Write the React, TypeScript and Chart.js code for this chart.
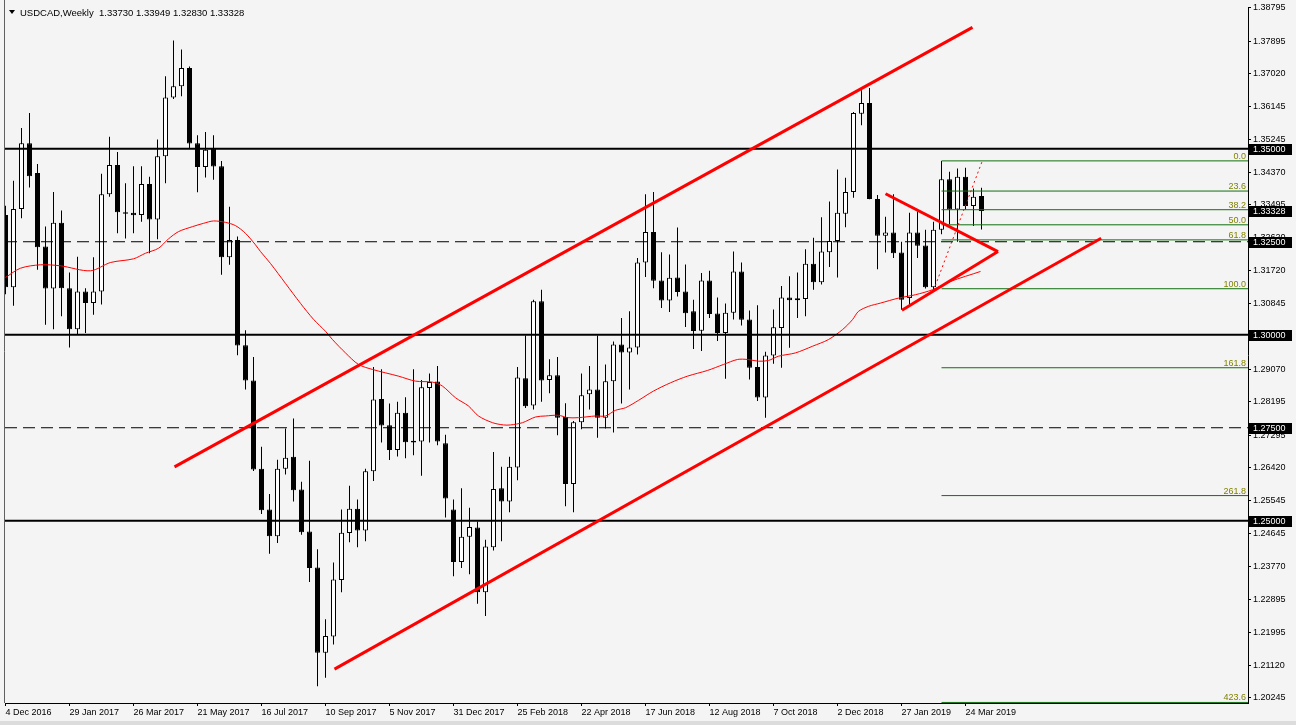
import React, { useEffect, useRef } from "react";
import { Chart, registerables } from "chart.js";

Chart.register(...registerables);

const symbolTitle = "USDCAD,Weekly";
const headerValues = ["1.33730", "1.33949", "1.32830", "1.33328"];

const dateLabels = [
  "4 Dec 2016", "29 Jan 2017", "26 Mar 2017", "21 May 2017", "16 Jul 2017", "10 Sep 2017",
  "5 Nov 2017", "31 Dec 2017", "25 Feb 2018", "22 Apr 2018", "17 Jun 2018", "12 Aug 2018",
  "7 Oct 2018", "2 Dec 2018", "27 Jan 2019", "24 Mar 2019",
];

const opens = [
  1.3322, 1.3128, 1.3338, 1.3515, 1.3435, 1.3237, 1.3124, 1.3301, 1.3125, 1.3015,
  1.3116, 1.3085, 1.3116, 1.3378, 1.3456, 1.3329, 1.3328, 1.3322, 1.3405, 1.3310,
  1.3480, 1.3638, 1.3668, 1.3717, 1.3515, 1.3451, 1.3500, 1.3453, 1.3208, 1.3255,
  1.2972, 1.2877, 1.2640, 1.2530, 1.2458, 1.2640, 1.2672, 1.2584, 1.2471, 1.2374,
  1.2145, 1.2189, 1.2341, 1.2467, 1.2532, 1.2474, 1.2633, 1.2827, 1.2757, 1.2690,
  1.2790, 1.2715, 1.2713, 1.2857, 1.2874, 1.2708, 1.2530, 1.2389, 1.2457, 1.2482,
  1.2308, 1.2429, 1.2587, 1.2552, 1.2643, 1.2883, 1.2810, 1.3090, 1.2878, 1.2891,
  1.2779, 1.2599, 1.2765, 1.2840, 1.2853, 1.2777, 1.2875, 1.2974, 1.2952, 1.2966,
  1.3194, 1.3276, 1.3146, 1.3092, 1.3154, 1.3116, 1.3063, 1.3011, 1.3146, 1.3057,
  1.3005, 1.3059, 1.3170, 1.3041, 1.2913, 1.2831, 1.2944, 1.3018, 1.3100, 1.3098,
  1.3096, 1.3191, 1.3141, 1.3222, 1.3252, 1.3325, 1.3384, 1.3594, 1.3623, 1.3365,
  1.3266, 1.3275, 1.3221, 1.3099, 1.3275, 1.3240, 1.3128, 1.3282, 1.3418, 1.3337,
  1.3425, 1.3346, 1.3373,
];
const highs = [
  1.3347, 1.3414, 1.3556, 1.3596, 1.3459, 1.3291, 1.3384, 1.3334, 1.3167, 1.3210,
  1.3125, 1.3208, 1.3433, 1.3532, 1.3491, 1.3407, 1.3453, 1.3453, 1.3425, 1.3525,
  1.3695, 1.3791, 1.3767, 1.3721, 1.3536, 1.3545, 1.3536, 1.3467, 1.3344, 1.3264,
  1.3012, 1.2940, 1.2699, 1.2572, 1.2664, 1.2748, 1.2775, 1.2605, 1.2661, 1.2423,
  1.2235, 1.2388, 1.2530, 1.2594, 1.2557, 1.2640, 1.2913, 1.2907, 1.2815, 1.2820,
  1.2832, 1.2907, 1.2878, 1.2896, 1.2916, 1.2731, 1.2557, 1.2587, 1.2535, 1.2498,
  1.2449, 1.2685, 1.2645, 1.2672, 1.2913, 1.2998, 1.3094, 1.3121, 1.2934, 1.2940,
  1.2816, 1.2768, 1.2896, 1.2916, 1.2998, 1.2920, 1.2982, 1.3045, 1.3063, 1.3206,
  1.3378, 1.3384, 1.3222, 1.3216, 1.3288, 1.3189, 1.3094, 1.3166, 1.3172, 1.3100,
  1.3084, 1.3224, 1.3194, 1.3065, 1.3079, 1.2954, 1.3068, 1.3131, 1.3157, 1.3167,
  1.3230, 1.3261, 1.3316, 1.3358, 1.3444, 1.3422, 1.3599, 1.3657, 1.3663, 1.3376,
  1.3317, 1.3378, 1.3250, 1.3328, 1.3331, 1.3282, 1.3304, 1.3467, 1.3438, 1.3447,
  1.3449, 1.3393, 1.33949,
];
const lows = [
  1.3109, 1.3078, 1.3313, 1.3396, 1.3175, 1.3027, 1.3015, 1.3050, 1.2966, 1.3002,
  1.3005, 1.3054, 1.3081, 1.3371, 1.3273, 1.3259, 1.3273, 1.3304, 1.3219, 1.3257,
  1.3407, 1.3634, 1.3641, 1.3502, 1.3383, 1.3423, 1.3417, 1.3161, 1.3188, 1.2945,
  1.2853, 1.2634, 1.2518, 1.2411, 1.2440, 1.2624, 1.2552, 1.2462, 1.2335, 1.2055,
  1.2078, 1.2167, 1.2308, 1.2442, 1.2429, 1.2445, 1.2607, 1.2710, 1.2663, 1.2673,
  1.2668, 1.2676, 1.2621, 1.2710, 1.2703, 1.2509, 1.2351, 1.2373, 1.2356, 1.2277,
  1.2244, 1.2420, 1.2445, 1.2523, 1.2609, 1.2803, 1.2799, 1.2820, 1.2843, 1.2730,
  1.2539, 1.2523, 1.2746, 1.2799, 1.2723, 1.2748, 1.2737, 1.2815, 1.2853, 1.2947,
  1.3155, 1.3125, 1.3072, 1.3061, 1.3103, 1.3021, 1.2962, 1.2956, 1.3045, 1.2983,
  1.2882, 1.3041, 1.3025, 1.2880, 1.2822, 1.2777, 1.2922, 1.2911, 1.2965, 1.3045,
  1.3050, 1.3121, 1.3135, 1.3182, 1.3154, 1.3289, 1.3368, 1.3563, 1.3364, 1.3176,
  1.3221, 1.3206, 1.3067, 1.3081, 1.3206, 1.3124, 1.3119, 1.3270, 1.3297, 1.3250,
  1.3337, 1.3292, 1.3283,
];
const closes = [
  1.3128, 1.3338, 1.3515, 1.3426, 1.3235, 1.3124, 1.3301, 1.3125, 1.3015, 1.3116,
  1.3085, 1.3116, 1.3378, 1.3456, 1.3329, 1.3325, 1.3321, 1.3405, 1.3310, 1.3480,
  1.3638, 1.3668, 1.3717, 1.3514, 1.3451, 1.3497, 1.3452, 1.3208, 1.3255, 1.2971,
  1.2877, 1.2638, 1.2528, 1.2458, 1.2640, 1.2669, 1.2582, 1.2469, 1.2373, 1.2145,
  1.2190, 1.2342, 1.2468, 1.2532, 1.2474, 1.2633, 1.2826, 1.2756, 1.2690, 1.2790,
  1.2711, 1.2710, 1.2859, 1.2873, 1.2713, 1.2560, 1.2389, 1.2457, 1.2483, 1.2308,
  1.2431, 1.2585, 1.2552, 1.2645, 1.2885, 1.2808, 1.3090, 1.2877, 1.2891, 1.2777,
  1.2599, 1.2765, 1.2837, 1.2853, 1.2777, 1.2875, 1.2974, 1.2952, 1.2966, 1.3194,
  1.3276, 1.3145, 1.3092, 1.3153, 1.3115, 1.3058, 1.3010, 1.3146, 1.3056, 1.3005,
  1.3059, 1.3170, 1.3040, 1.2911, 1.2831, 1.2944, 1.3020, 1.3100, 1.3093, 1.3093,
  1.3191, 1.3141, 1.3224, 1.3252, 1.3328, 1.3384, 1.3596, 1.3623, 1.3365, 1.3266,
  1.3275, 1.3219, 1.3094, 1.3275, 1.3239, 1.3128, 1.3282, 1.3418, 1.3337, 1.3425,
  1.3346, 1.3371, 1.33328,
];

const priceTicks = [
  1.38795, 1.37895, 1.3702, 1.36145, 1.35245, 1.3437, 1.33495, 1.3262, 1.3172, 1.30845,
  1.2997, 1.2907, 1.28195, 1.27295, 1.2642, 1.25545, 1.24645, 1.2377, 1.22895, 1.21995,
  1.2112, 1.20245,
];

const solidLevels = [1.35, 1.3, 1.25];
const dashedLevels = [1.325, 1.275];
const markedPrices = [1.35, 1.33328, 1.325, 1.3, 1.275, 1.25];

const fibHigh = 1.34674;
const fibLow = 1.31237;
const fibRatios = [0, 23.6, 38.2, 50, 61.8, 100, 161.8, 261.8, 423.6];
const fibStartIndex = 117;

const maIndex = [
  0, 1.875, 4.375, 6.875, 10.625, 13.125, 16, 17.5, 19.125, 20.375, 21.625, 23.375, 24.75, 26,
  27.5, 28.75, 30, 31.25, 31.875, 33.125, 35, 36.875, 38.5, 40, 40.875, 42.5, 44.125, 45.875,
  49.125, 51.25, 53.375, 54.625, 56.25, 57.875, 59.125, 60.875, 62.25, 63.125, 64.625, 66.25,
  67.5, 69.125, 70.25, 71.625, 73.75, 75, 76.25, 77.5, 79.125, 81, 83.125, 85.25, 87.75, 89.75,
  91.5, 92.75, 94.125, 95.375, 96.625, 98.75, 100.875, 102.875, 104.625, 105.875, 106.625,
  107.875, 109.375, 111.625, 113.75, 115.875, 118.125, 121.875,
];
const maValues = [
  1.3154, 1.31789, 1.3188, 1.31853, 1.31719, 1.31942, 1.32041, 1.32191, 1.32325, 1.32577,
  1.32772, 1.32906, 1.32995, 1.33059, 1.33021, 1.32933, 1.32726, 1.32416, 1.32236, 1.31915,
  1.31379, 1.30843, 1.30415, 1.30093, 1.2987, 1.29511, 1.29201, 1.29067, 1.28887, 1.28753,
  1.28726, 1.28619, 1.28306, 1.28084, 1.27816, 1.27636, 1.27575, 1.27575, 1.27636, 1.27789,
  1.27816, 1.27835, 1.27771, 1.27771, 1.27816, 1.27816, 1.27968, 1.28038, 1.28236, 1.28486,
  1.28708, 1.28887, 1.2904, 1.29201, 1.29335, 1.29335, 1.29289, 1.29308, 1.29423, 1.29512,
  1.29691, 1.29871, 1.30138, 1.30406, 1.30629, 1.30763, 1.30851, 1.30985, 1.31076, 1.3121,
  1.31433, 1.31701,
];

const upperChannel = [{ x: 21.125, y: 1.26449 }, { x: 120.875, y: 1.38264 }];
const lowerChannel = [{ x: 41.125, y: 1.21011 }, { x: 136.96, y: 1.32593 }];
const triangleLines = [
  [{ x: 110, y: 1.3379 }, { x: 124.06, y: 1.32236 }],
  [{ x: 112.06, y: 1.30656 }, { x: 124.06, y: 1.32236 }],
];
const fibDiagonal = [{ x: 116, y: 1.31191 }, { x: 122.1, y: 1.34674 }];

const X_MIN = -0.0625;
const X_MAX = 155.3125;
const Y_MIN = 1.201;
const Y_MAX = 1.388;

const FONT = "'Liberation Sans', Arial, sans-serif";

const decorPlugin = {
  id: "decor",
  beforeDraw(chart: any) {
    const { ctx, width, height } = chart;
    ctx.save();
    ctx.fillStyle = "#f4f4f4";
    ctx.fillRect(0, 0, width, height);
    ctx.fillStyle = "#dcdcdc";
    ctx.fillRect(0, 721, width, 4);
    ctx.restore();
  },
  afterDatasetsDraw(chart: any) {
    const { ctx, chartArea } = chart;
    const ys = chart.scales.y;
    ctx.save();
    ctx.font = `9px ${FONT}`;
    ctx.fillStyle = "#808000";
    ctx.textAlign = "right";
    ctx.textBaseline = "alphabetic";
    fibRatios.forEach((r) => {
      const v = fibHigh - (r / 100) * (fibHigh - fibLow);
      ctx.fillText(r.toFixed(1), chartArea.right - 2, ys.getPixelForValue(v) - 2);
    });
    ctx.restore();
  },
  afterDraw(chart: any) {
    const { ctx, chartArea } = chart;
    const ys = chart.scales.y;
    ctx.save();
    ctx.strokeStyle = "#606060";
    ctx.lineWidth = 1;
    ctx.beginPath();
    ctx.moveTo(4.5, 0);
    ctx.lineTo(4.5, chartArea.bottom);
    ctx.stroke();
    ctx.fillStyle = "#000";
    ctx.beginPath();
    ctx.moveTo(9, 10);
    ctx.lineTo(15, 10);
    ctx.lineTo(12, 14);
    ctx.closePath();
    ctx.fill();
    ctx.font = `9.5px ${FONT}`;
    ctx.textAlign = "left";
    ctx.textBaseline = "alphabetic";
    ctx.fillText(`${symbolTitle}  ${headerValues.join(" ")}`, 20, 16);
    ctx.font = `9px ${FONT}`;
    markedPrices.forEach((p) => {
      const py = Math.round(ys.getPixelForValue(p));
      ctx.fillStyle = "#000";
      ctx.fillRect(chartArea.right + 1, py - 5, 43, 11);
      ctx.fillStyle = "#fff";
      ctx.textBaseline = "middle";
      ctx.fillText(p.toFixed(5), chartArea.right + 5, py + 0.5);
    });
    ctx.restore();
  },
};

function hLine(v: number, color: string, width: number, dash: number[] = []) {
  return {
    type: "line",
    data: [{ x: X_MIN, y: v }, { x: X_MAX, y: v }],
    borderColor: color,
    borderWidth: width,
    borderDash: dash,
    pointRadius: 0,
    fill: false,
    order: 4,
  };
}

export default function App() {
  const ref = useRef<HTMLCanvasElement | null>(null);

  useEffect(() => {
    document.body.style.margin = "0";
    document.body.style.background = "#f4f4f4";
    const canvas = ref.current;
    if (!canvas) return;

    const idx = opens.map((_, i) => i);
    const wickData = idx.map((i) => ({ x: i, y: [lows[i], highs[i]] }));
    const bodyData = idx.map((i) => ({ x: i, y: [opens[i], closes[i]] }));
    const bodyFill = idx.map((i) => (closes[i] >= opens[i] ? "#ffffff" : "#000000"));

    const fibDatasets = fibRatios.map((r) => {
      const v = fibHigh - (r / 100) * (fibHigh - fibLow);
      return {
        type: "line",
        data: [{ x: fibStartIndex, y: v }, { x: X_MAX, y: v }],
        borderColor: "#107010",
        borderWidth: 1,
        pointRadius: 0,
        fill: false,
        order: 3,
      };
    });

    const redLine = (pts: any[], w: number, dash: number[] = []) => ({
      type: "line",
      data: pts,
      borderColor: "#ff0000",
      borderWidth: w,
      borderDash: dash,
      pointRadius: 0,
      fill: false,
      order: 1,
    });

    const datasets: any[] = [
      {
        type: "bar",
        data: wickData,
        backgroundColor: "#000000",
        borderWidth: 0,
        grouped: false,
        maxBarThickness: 1,
        order: 10,
      },
      {
        type: "bar",
        data: bodyData,
        backgroundColor: bodyFill,
        borderColor: "#000000",
        borderWidth: 1,
        borderSkipped: false,
        grouped: false,
        maxBarThickness: 5,
        minBarLength: 1,
        order: 9,
      },
      {
        type: "line",
        data: maIndex.map((x, k) => ({ x, y: maValues[k] })),
        borderColor: "#ff0000",
        borderWidth: 1,
        pointRadius: 0,
        tension: 0.3,
        fill: false,
        order: 5,
      },
      ...solidLevels.map((v) => hLine(v, "#000000", 2)),
      ...dashedLevels.map((v) => hLine(v, "#000000", 1, [12, 6])),
      ...fibDatasets,
      redLine(upperChannel, 3),
      redLine(lowerChannel, 3),
      ...triangleLines.map((t) => redLine(t, 3)),
      redLine(fibDiagonal, 1, [2, 3]),
    ];

    const chart = new Chart(canvas, {
      type: "bar",
      data: { datasets },
      plugins: [decorPlugin],
      options: {
        animation: false,
        responsive: false,
        devicePixelRatio: 1,
        events: [],
        layout: { padding: { left: 5, top: 5, right: 0, bottom: 0 } },
        plugins: { legend: { display: false }, tooltip: { enabled: false } },
        scales: {
          x: {
            type: "linear",
            min: X_MIN,
            max: X_MAX,
            offset: false,
            afterBuildTicks: (scale: any) => {
              scale.ticks = dateLabels.map((_, k) => ({ value: k * 8 }));
            },
            afterFit: (scale: any) => {
              scale.height = 22;
            },
            grid: {
              display: true,
              drawOnChartArea: false,
              drawTicks: true,
              tickLength: 3,
              color: "#000000",
              offset: false,
            },
            border: { display: true, color: "#000000", width: 1 },
            ticks: {
              autoSkip: false,
              maxRotation: 0,
              minRotation: 0,
              align: "start",
              padding: 1,
              color: "#000000",
              font: { family: FONT, size: 9 },
              callback: (value: any) => dateLabels[Math.round(Number(value) / 8)] ?? "",
            },
          },
          y: {
            type: "linear",
            position: "right",
            min: Y_MIN,
            max: Y_MAX,
            afterBuildTicks: (scale: any) => {
              scale.ticks = priceTicks.map((v) => ({ value: v }));
            },
            afterFit: (scale: any) => {
              scale.width = 48;
            },
            grid: {
              display: true,
              drawOnChartArea: false,
              drawTicks: true,
              tickLength: 3,
              color: "#000000",
            },
            border: { display: true, color: "#000000", width: 1 },
            ticks: {
              padding: 2,
              color: "#000000",
              font: { family: FONT, size: 9 },
              callback: (value: any) => Number(value).toFixed(5),
            },
          },
        },
      } as any,
    } as any);

    return () => chart.destroy();
  }, []);

  return <canvas ref={ref} width={1296} height={725} style={{ display: "block" }} />;
}
